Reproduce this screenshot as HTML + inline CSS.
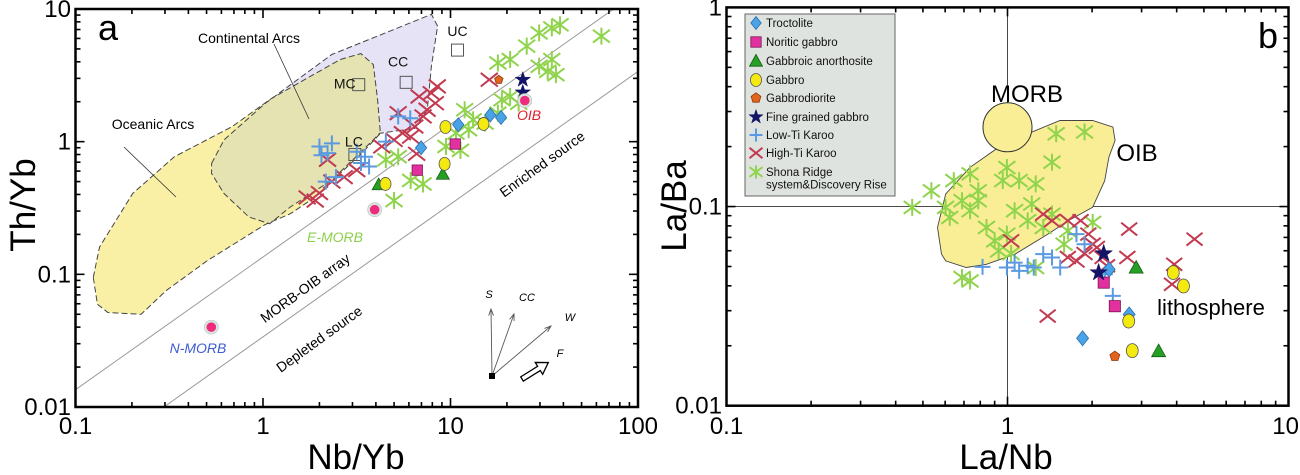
<!DOCTYPE html>
<html><head><meta charset="utf-8"><style>
html,body{margin:0;padding:0;background:#fff;width:1300px;height:475px;overflow:hidden}
svg{display:block;font-family:"Liberation Sans",sans-serif}
</style></head><body>
<svg id="fig" width="1300" height="475" viewBox="0 0 1300 475" xmlns="http://www.w3.org/2000/svg">
<defs>
<clipPath id="clipA"><rect x="75.5" y="9" width="562.5" height="398"/></clipPath>
<clipPath id="clipB"><rect x="726.5" y="7.4" width="562" height="398.3"/></clipPath>
<clipPath id="clipOA"><polygon id="oaClipPoly"/></clipPath>
</defs>
<g id="panelA"></g>
<g id="panelB"></g>
</svg>
<script>
// ---------- Panel A data (Nb/Yb vs Th/Yb) ----------
const aTroctX=[6.97,11,16.3,18.6], aTroctY=[0.9,1.34,1.59,1.52];
const aNoritX=[6.65,10.6], aNoritY=[0.61,0.96];
const aAnorX=[4.14,9.1], aAnorY=[0.475,0.57];
const aGabX=[4.5,9.3,9.4,15], aGabY=[0.48,0.68,1.29,1.36];
const aDiorX=[18.1], aDiorY=[2.93];
const aFineX=[24.3,24.3], aFineY=[2.93,2.35];
const aLowX=[2.0,2.21,2.33,2.05,3.16,3.5,3.68,3.33,2.16,2.45,5.26,6.1,4.52];
const aLowY=[0.92,0.82,0.97,0.79,0.84,0.77,0.65,0.69,0.50,0.54,1.55,1.5,1.0];
const aHighX=[1.72,2.0,1.9,2.33,2.71,3.16,2.21,4.3,5.0,5.54,6.13,6.45,7.14,7.5,8.3,7.9,8.5,5.26,6.8,16.1,6.6];
const aHighY=[0.38,0.41,0.36,0.50,0.54,0.61,0.73,0.92,1.03,1.16,1.09,1.30,1.55,1.74,1.95,2.32,2.61,1.64,2.19,2.93,0.81];
const aShonaX=[4.52,5.26,5.0,6.13,7.14,9.46,10.7,11.9,13.2,15.3,17.9,18.8,20.8,23.1,17.9,20.8,25.5,29.7,34.7,38.4,29.7,34.7,33,36.5,63.8,12.5,11.3];
const aShonaY=[0.73,0.77,0.36,0.51,0.48,0.92,1.16,1.74,1.46,1.38,1.64,2.07,2.19,1.95,3.92,4.16,5.25,6.6,7.2,7.6,3.7,4.16,3.39,3.2,6.24,1.23,0.86];
const aRefNames=["UC","CC","MC","LC"], aRefX=[10.9,5.8,3.24,3.09], aRefY=[4.9,2.8,2.69,0.8];
const aMorbNames=["N-MORB","E-MORB","OIB"], aMorbX=[0.53,3.94,24.9], aMorbY=[0.04,0.307,2.04];
const aXTicks=[0.1,1,10,100], aXTickLabels=["0.1","1","10","100"];
const aYTicks=[0.01,0.1,1,10], aYTickLabels=["0.01","0.1","1","10"];
const aCAlog=[[-0.274,-0.164],[-0.208,0.013],[0.013,0.290],[0.367,0.657],[0.699,0.846],[0.898,0.960],[0.931,0.871],[0.898,0.568],[0.876,0.240],[0.810,0.101],[0.622,0.063],[0.588,0.013],[0.367,-0.290],[0.146,-0.492],[0.035,-0.619],[-0.075,-0.568],[-0.208,-0.391],[-0.274,-0.240]];
const aOAlog=[[-0.905,-1.023],[-0.872,-0.795],[-0.695,-0.391],[-0.473,-0.114],[-0.164,0.114],[0.035,0.316],[0.190,0.442],[0.412,0.619],[0.522,0.664],[0.588,0.581],[0.611,0.316],[0.626,0.063],[0.544,-0.063],[0.279,-0.417],[0.146,-0.543],[0.013,-0.624],[-0.296,-0.896],[-0.518,-1.124],[-0.650,-1.301],[-0.827,-1.288],[-0.883,-1.225]];

// ---------- Panel B data (La/Nb vs La/Ba) ----------
const bTroctX=[1.85,2.30,2.71], bTroctY=[0.0218,0.0484,0.0287];
const bNoritX=[2.20,2.41], bNoritY=[0.0415,0.0316];
const bAnorX=[2.87,3.45], bAnorY=[0.0494,0.0188];
const bGabX=[3.89,4.23,2.70,2.78], bGabY=[0.0466,0.0399,0.0266,0.0189];
const bDiorX=[2.41], bDiorY=[0.0177];
const bFineX=[2.20,2.11], bFineY=[0.0581,0.0466];
const bLowX=[0.815,1.06,1.10,1.34,1.44,1.54,1.24,1.76,1.88,2.22,2.37,0.995,1.18];
const bLowY=[0.0498,0.0523,0.0475,0.0577,0.0555,0.0494,0.0494,0.0727,0.0647,0.0457,0.0356,0.0494,0.0504];
const bHighX=[1.39,1.03,1.34,1.44,1.64,1.82,1.94,2.01,1.88,2.08,1.64,1.76,2.18,2.71,2.67,3.92,3.85,4.63,2.26];
const bHighY=[0.0282,0.0673,0.0916,0.0849,0.0849,0.0849,0.0727,0.0647,0.0581,0.0623,0.0555,0.0533,0.0555,0.0771,0.0555,0.0513,0.0407,0.0686,0.0504];
const bShonaX=[0.458,0.536,0.644,0.736,0.602,0.689,0.787,0.623,0.842,0.736,0.962,0.995,1.10,1.26,1.22,1.06,0.995,0.93,1.18,1.34,1.44,1.59,1.49,1.88,1.44,0.689,0.736,1.26,2.01,1.64,0.90,0.787,1.03];
const bShonaY=[0.099,0.120,0.135,0.146,0.099,0.107,0.107,0.0882,0.0785,0.0953,0.135,0.157,0.135,0.130,0.103,0.0953,0.0727,0.0599,0.0849,0.0785,0.0916,0.0647,0.232,0.237,0.167,0.044,0.0423,0.0494,0.0832,0.0755,0.0673,0.120,0.0581];
const bMorbX=[1], bMorbY=[0.25];
const bXTicks=[0.1,1,10], bXTickLabels=["0.1","1","10"];
const bYTicks=[0.01,0.1,1], bYTickLabels=["0.01","0.1","1"];
const bOIBlog=[[-0.235,-1.239],[-0.249,-1.105],[-0.220,-0.937],[-0.133,-0.803],[-0.031,-0.702],[0.0705,-0.635],[0.187,-0.568],[0.303,-0.568],[0.375,-0.601],[0.383,-0.668],[0.361,-0.752],[0.346,-0.870],[0.303,-1.004],[0.216,-1.071],[0.143,-1.139],[0.027,-1.239],[-0.075,-1.290],[-0.147,-1.306],[-0.220,-1.273]];

const legendLabels=["Troctolite","Noritic gabbro","Gabbroic anorthosite","Gabbro","Gabbrodiorite","Fine grained gabbro","Low-Ti Karoo","High-Ti Karoo","Shona Ridge|system&Discovery Rise"];
const legendTypes=["diamond","square","triangle","circle","pentagon","star","plus","cross","aster"];

const L=Math.log10;
const ax=v=>75.5+(L(v)+1)*187.5, ay=v=>407-(L(v)+2)*132.67;
const bx=v=>726.5+(L(v)+1)*281, by=v=>405.7-(L(v)+2)*199.15;
const axl=l=>ax(Math.pow(10,l)), ayl=l=>ay(Math.pow(10,l));
const bxl=l=>bx(Math.pow(10,l)), byl=l=>by(Math.pow(10,l));

const NS="http://www.w3.org/2000/svg";
function el(tag,attrs,parent){const e=document.createElementNS(NS,tag);for(const k in attrs)e.setAttribute(k,attrs[k]);parent.appendChild(e);return e;}
function txt(s,attrs,parent){const e=el("text",attrs,parent);e.textContent=s;return e;}

const COL={diamond:["#4aa3e6","#2a6fb0"],square:["#e3309f","#7a1455"],triangle:["#25a025","#145c14"],circle:["#f5ea10","#555"],pentagon:["#e3641c","#8a3a10"],star:["#141466","#141466"],plus:"#5b9ae0",cross:"#c23a50",aster:"#8fd44c"};

function marker(type,x,y,s,parent){
  let e;
  if(type==="diamond"){e=el("polygon",{points:`${x},${y-s} ${x+s*0.8},${y} ${x},${y+s} ${x-s*0.8},${y}`,fill:COL.diamond[0],stroke:COL.diamond[1],"stroke-width":0.8},parent);}
  else if(type==="square"){e=el("rect",{x:x-s*0.8,y:y-s*0.8,width:s*1.6,height:s*1.6,fill:COL.square[0],stroke:COL.square[1],"stroke-width":0.8},parent);}
  else if(type==="triangle"){e=el("polygon",{points:`${x},${y-s} ${x+s},${y+s*0.8} ${x-s},${y+s*0.8}`,fill:COL.triangle[0],stroke:COL.triangle[1],"stroke-width":0.8},parent);}
  else if(type==="circle"){e=el("ellipse",{cx:x,cy:y,rx:s*0.85,ry:s,fill:COL.circle[0],stroke:COL.circle[1],"stroke-width":0.8},parent);}
  else if(type==="pentagon"){let p=[];for(let i=0;i<5;i++){const a=-Math.PI/2+i*2*Math.PI/5;p.push((x+s*0.8*Math.cos(a)).toFixed(1)+","+(y+s*0.8*Math.sin(a)).toFixed(1));}e=el("polygon",{points:p.join(" "),fill:COL.pentagon[0],stroke:COL.pentagon[1],"stroke-width":0.8},parent);}
  else if(type==="star"){let p=[];for(let i=0;i<10;i++){const r=i%2?s*0.45:s*1.15;const a=-Math.PI/2+i*Math.PI/5;p.push((x+r*Math.cos(a)).toFixed(1)+","+(y+r*Math.sin(a)).toFixed(1));}e=el("polygon",{points:p.join(" "),fill:COL.star[0],stroke:COL.star[1],"stroke-width":0.5},parent);}
  else if(type==="plus"){e=el("path",{d:`M${x-s} ${y}H${x+s}M${x} ${y-s}V${y+s}`,stroke:COL.plus,"stroke-width":2,fill:"none"},parent);}
  else if(type==="cross"){e=el("path",{d:`M${x-s} ${y-s*0.8}L${x+s} ${y+s*0.8}M${x-s} ${y+s*0.8}L${x+s} ${y-s*0.8}`,stroke:COL.cross,"stroke-width":2,fill:"none"},parent);}
  else if(type==="aster"){e=el("path",{d:`M${x-s} ${y-s*0.75}L${x+s} ${y+s*0.75}M${x-s} ${y+s*0.75}L${x+s} ${y-s*0.75}M${x} ${y-s}V${y+s}`,stroke:COL.aster,"stroke-width":2,fill:"none"},parent);}
  return e;
}

function logTicks(fx,fy,x0,x1,y0,y1,decX,decY,g,nm){
  for(let d=decX[0];d<decX[1];d++)for(let m=1;m<10;m++){
    const v=m*Math.pow(10,d);const X=fx(v);const len=m===1?9:5;
    const t1=el("line",{x1:X,y1:y1,x2:X,y2:y1-len,stroke:"#000","stroke-width":1.6},g);
    
    
    const t2=el("line",{x1:X,y1:y0,x2:X,y2:y0+len,stroke:"#000","stroke-width":1.6},g);
    
    
  }
  for(let d=decY[0];d<decY[1];d++)for(let m=1;m<10;m++){
    const v=m*Math.pow(10,d);const Y=fy(v);const len=m===1?9:5;
    const t1=el("line",{x1:x0,y1:Y,x2:x0+len,y2:Y,stroke:"#000","stroke-width":1.6},g);
    
    
    const t2=el("line",{x1:x1,y1:Y,x2:x1-len,y2:Y,stroke:"#000","stroke-width":1.6},g);
    
    
  }
}

function plotSeries(g,type,xs,ys,fx,fy,s,name){
  for(let i=0;i<xs.length;i++){
    const m=marker(type,fx(xs[i]),fy(ys[i]),s,g);
    
    
  }
}

// ================= PANEL A =================
const A=document.getElementById("panelA");
const aData=el("g",{"clip-path":"url(#clipA)"},A);



const caPts=aCAlog.map(p=>axl(p[0]).toFixed(1)+","+ayl(p[1]).toFixed(1)).join(" ");
const oaPts=aOAlog.map(p=>axl(p[0]).toFixed(1)+","+ayl(p[1]).toFixed(1)).join(" ");
const ca=el("polygon",{points:caPts,fill:"#e5e3f5",stroke:"none"},aData);


const oa=el("polygon",{points:oaPts,fill:"#f9f0a6",stroke:"none"},aData);


document.getElementById("oaClipPoly").setAttribute("points",oaPts);
const ov=el("polygon",{points:caPts,fill:"#e6e3b2",stroke:"none","clip-path":"url(#clipOA)"},aData);


const oaB=el("polygon",{points:oaPts,fill:"none",stroke:"#444","stroke-width":1,"stroke-dasharray":"6,3"},aData);


const caB=el("polygon",{points:caPts,fill:"none",stroke:"#444","stroke-width":1,"stroke-dasharray":"6,3"},aData);



const up=el("line",{x1:ax(0.1),y1:ay(0.0135),x2:ax(100),y2:ay(13.5),stroke:"#999","stroke-width":1},aData);


const lo=el("line",{x1:ax(0.296),y1:ay(0.01),x2:ax(100),y2:ay(3.38),stroke:"#999","stroke-width":1},aData);



const ld1=el("line",{x1:274,y1:44,x2:309,y2:119,stroke:"#333","stroke-width":0.8},A);


const ld2=el("line",{x1:124,y1:147,x2:176,y2:197,stroke:"#333","stroke-width":0.8},A);



for(let i=0;i<aRefX.length;i++){
  const r=el("rect",{x:ax(aRefX[i])-6,y:ay(aRefY[i])-6,width:12,height:12,fill:"none",stroke:"#555","stroke-width":1},aData);
  
  
}
const refLblPos=[[0,-14],[-8,-16],[-14,4],[-1,-8]];
for(let i=0;i<aRefNames.length;i++){
  const t=txt(aRefNames[i],{x:ax(aRefX[i])+refLblPos[i][0],y:ay(aRefY[i])+refLblPos[i][1],"font-size":14,"text-anchor":"middle",fill:"#111"},A);
  
  
}

plotSeries(aData,"aster",aShonaX,aShonaY,ax,ay,8.5,"shona-ridge-point");
plotSeries(aData,"cross",aHighX,aHighY,ax,ay,8.5,"high-ti-karoo-point");
plotSeries(aData,"plus",aLowX,aLowY,ax,ay,8,"low-ti-karoo-point");
plotSeries(aData,"diamond",aTroctX,aTroctY,ax,ay,7,"troctolite-point");
plotSeries(aData,"square",aNoritX,aNoritY,ax,ay,6.5,"noritic-gabbro-point");
plotSeries(aData,"triangle",aAnorX,aAnorY,ax,ay,6.5,"gabbroic-anorthosite-point");
plotSeries(aData,"circle",aGabX,aGabY,ax,ay,6.5,"gabbro-point");
plotSeries(aData,"pentagon",aDiorX,aDiorY,ax,ay,5.5,"gabbrodiorite-point");
plotSeries(aData,"star",aFineX,aFineY,ax,ay,7,"fine-grained-gabbro-point");

for(let i=0;i<aMorbX.length;i++){
  const h=el("circle",{cx:ax(aMorbX[i]),cy:ay(aMorbY[i]),r:7,fill:"#d8e8e0",stroke:"#bbb","stroke-width":0.6},aData);
  
  
  const c=el("circle",{cx:ax(aMorbX[i]),cy:ay(aMorbY[i]),r:4.8,fill:"#ee2b7c"},aData);
  
  
}

const fa=el("rect",{x:75.5,y:9,width:562.5,height:398,fill:"none",stroke:"#000","stroke-width":2.5},A);


logTicks(ax,ay,75.5,638,9,407,[-1,2],[-2,1],A,"panel-a");
for(let i=0;i<aXTicks.length;i++){
  const t=txt(aXTickLabels[i],{x:ax(aXTicks[i]),y:434,"font-size":24,"text-anchor":"middle"},A);
  
  
}
for(let i=0;i<aYTicks.length;i++){
  const t=txt(aYTickLabels[i],{x:71,y:ay(aYTicks[i])+8,"font-size":24,"text-anchor":"end"},A);
  
  
}
let t;
t=txt("Nb/Yb",{x:356,y:469,"font-size":35,"text-anchor":"middle"},A);


t=txt("Th/Yb",{x:0,y:0,"font-size":35,"text-anchor":"middle",transform:"translate(35,205) rotate(-90)"},A);


t=txt("a",{x:98,y:40,"font-size":36},A);


t=txt("Continental Arcs",{x:249,y:43,"font-size":14,"text-anchor":"middle"},A);


t=txt("Oceanic Arcs",{x:153,y:129,"font-size":14,"text-anchor":"middle"},A);


t=txt("OIB",{x:529,y:120,"font-size":14,"text-anchor":"middle","font-style":"italic",fill:"#e0202a"},A);


t=txt("E-MORB",{x:335,y:242,"font-size":14,"text-anchor":"middle","font-style":"italic",fill:"#8cd14a"},A);


t=txt("N-MORB",{x:198,y:353,"font-size":14,"text-anchor":"middle","font-style":"italic",fill:"#3e5bd0"},A);


t=txt("MORB-OIB array",{x:0,y:0,"font-size":14,"text-anchor":"middle",transform:"translate(308,292) rotate(-36)"},A);


t=txt("Depleted source",{x:0,y:0,"font-size":14,"text-anchor":"middle",transform:"translate(322,343) rotate(-36)"},A);


t=txt("Enriched source",{x:0,y:0,"font-size":14,"text-anchor":"middle",transform:"translate(545,168) rotate(-36)"},A);



const vec=el("g",{stroke:"#555","stroke-width":0.9,fill:"none"},A);


const vs=[[491,309],[514,314],[551,326]];
for(const v of vs){
  const ang=Math.atan2(v[1]-376,v[0]-492);
  const p=el("path",{d:`M492 376L${v[0]} ${v[1]}M${v[0]-7*Math.cos(ang-0.35)} ${v[1]-7*Math.sin(ang-0.35)}L${v[0]} ${v[1]}L${v[0]-7*Math.cos(ang+0.35)} ${v[1]-7*Math.sin(ang+0.35)}`},vec);
  
  
}
const sq=el("rect",{x:489,y:373,width:6,height:6,fill:"#000"},A);


const fa2=el("polygon",{points:"0,-2.5 20,-2.5 20,-7 31,0 20,7 20,2.5 0,2.5",fill:"#fff",stroke:"#000","stroke-width":1.3,transform:"translate(522,379) rotate(-32)"},A);


const vl=[["S",489,298],["CC",527,301],["W",570,321],["F",560,357]];
for(const v of vl){
  const tt=txt(v[0],{x:v[1],y:v[2],"font-size":11,"font-style":"italic","text-anchor":"middle"},A);
  
  
}

// ================= PANEL B =================
const B=document.getElementById("panelB");
const bData=el("g",{"clip-path":"url(#clipB)"},B);


const vln=el("line",{x1:bx(1),y1:7,x2:bx(1),y2:406,stroke:"#333","stroke-width":0.9},bData);


const hln=el("line",{x1:726,y1:by(0.1),x2:1289,y2:by(0.1),stroke:"#333","stroke-width":0.9},bData);


const oib=el("polygon",{points:bOIBlog.map(p=>bxl(p[0]).toFixed(1)+","+byl(p[1]).toFixed(1)).join(" "),fill:"#f9ee96",stroke:"#444","stroke-width":0.9},bData);


const morb=el("circle",{cx:bx(bMorbX[0]),cy:by(bMorbY[0]),r:24.5,fill:"#f9ee96",stroke:"#333","stroke-width":1},bData);



plotSeries(bData,"aster",bShonaX,bShonaY,bx,by,8.5,"shona-ridge-point");
plotSeries(bData,"cross",bHighX,bHighY,bx,by,8,"high-ti-karoo-point");
plotSeries(bData,"plus",bLowX,bLowY,bx,by,8,"low-ti-karoo-point");
plotSeries(bData,"diamond",bTroctX,bTroctY,bx,by,7.5,"troctolite-point");
plotSeries(bData,"square",bNoritX,bNoritY,bx,by,7,"noritic-gabbro-point");
plotSeries(bData,"triangle",bAnorX,bAnorY,bx,by,7,"gabbroic-anorthosite-point");
plotSeries(bData,"circle",bGabX,bGabY,bx,by,7,"gabbro-point");
plotSeries(bData,"pentagon",bDiorX,bDiorY,bx,by,6.5,"gabbrodiorite-point");
plotSeries(bData,"star",bFineX,bFineY,bx,by,8,"fine-grained-gabbro-point");

const fb=el("rect",{x:726.5,y:7.4,width:562,height:398.3,fill:"none",stroke:"#000","stroke-width":2.5},B);


logTicks(bx,by,726.5,1288.5,7.4,405.7,[-1,1],[-2,0],B,"panel-b");
for(let i=0;i<bXTicks.length;i++){
  const last=i===bXTicks.length-1;
  const tt=txt(bXTickLabels[i],{x:last?1299:bx(bXTicks[i]),y:434,"font-size":24,"text-anchor":last?"end":"middle"},B);
  
  
}
for(let i=0;i<bYTicks.length;i++){
  const tt=txt(bYTickLabels[i],{x:722,y:by(bYTicks[i])+8,"font-size":24,"text-anchor":"end"},B);
  
  
}
t=txt("La/Nb",{x:1006,y:469,"font-size":35,"text-anchor":"middle"},B);


t=txt("La/Ba",{x:0,y:0,"font-size":35,"text-anchor":"middle",transform:"translate(686,206) rotate(-90)"},B);


t=txt("b",{x:1258,y:48,"font-size":36},B);


t=txt("MORB",{x:1027,y:102,"font-size":24,"text-anchor":"middle"},B);


t=txt("OIB",{x:1137,y:161,"font-size":24,"text-anchor":"middle"},B);


t=txt("lithosphere",{x:1211,y:315,"font-size":22,"text-anchor":"middle"},B);



const lg=el("g",{},B);


const lbox=el("rect",{x:745,y:14,width:150,height:182,fill:"#dfe3df",stroke:"#666","stroke-width":1},lg);


const ly=[23,42,61,80,98,117,135,153,172];
for(let i=0;i<legendLabels.length;i++){
  const ent=el("g",{},lg);
  
  
  const mk=marker(legendTypes[i],756,ly[i],6.5,ent);
  
  
  const parts=legendLabels[i].split("|");
  for(let j=0;j<parts.length;j++){
    const tt=txt(parts[j],{x:766,y:ly[i]+4+j*12.5,"font-size":11.5,fill:"#111"},ent);
    
    
  }
}
</script>
</body></html>
